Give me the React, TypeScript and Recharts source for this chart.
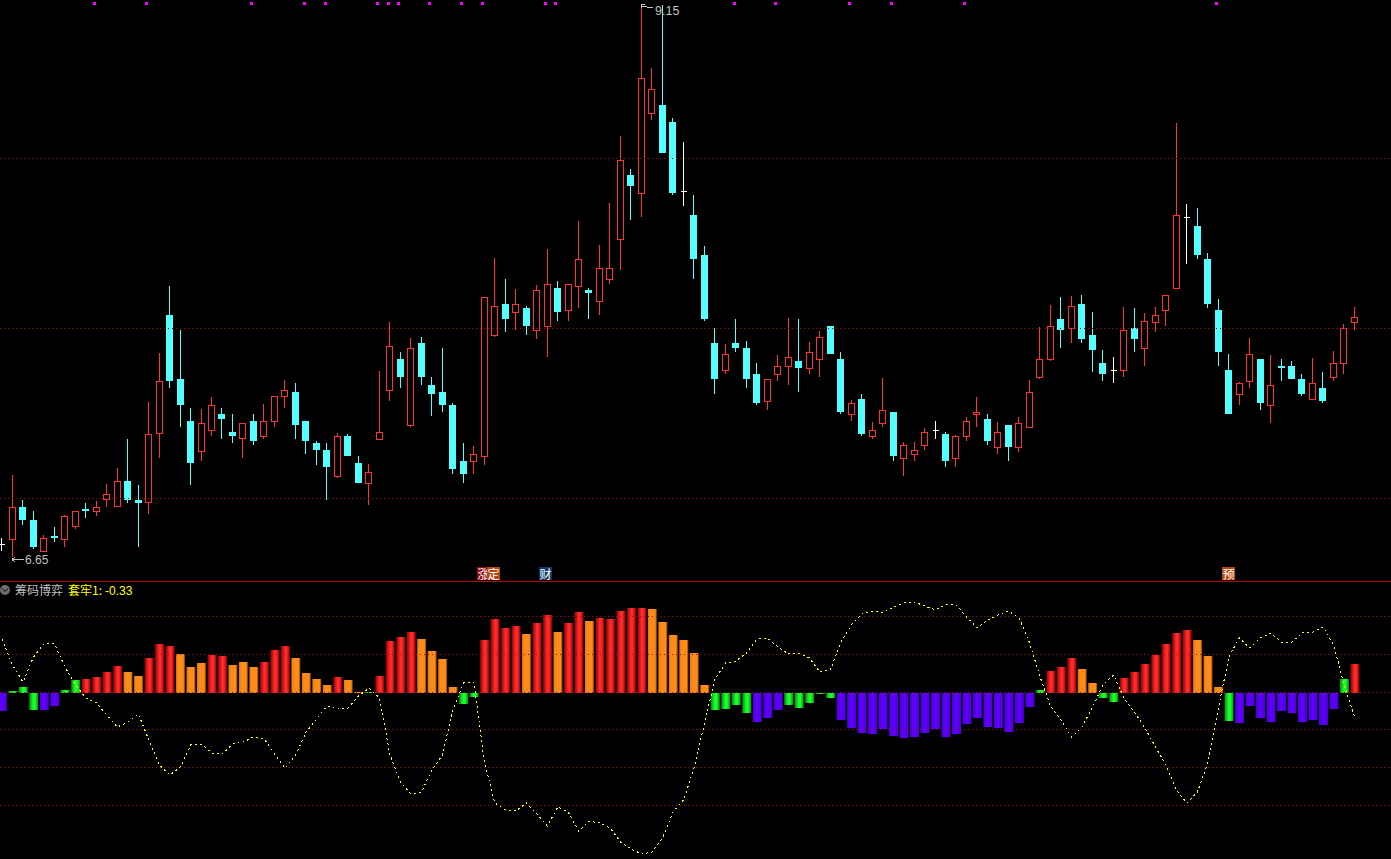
import { ComposedChart, Bar, Line, Cell, XAxis, YAxis, ReferenceLine } from 'recharts';

const highs = [
  6.749, 7.033, 6.92, 6.871, 6.763, 6.799, 6.853, 6.871, 6.907, 6.916,
  6.992, 7.064, 7.195, 6.988, 7.361, 7.582, 7.883, 7.685, 7.334, 7.33,
  7.384, 7.334, 7.307, 7.267, 7.307, 7.352, 7.388, 7.46, 7.447, 7.276,
  7.186, 7.177, 7.222, 7.217, 7.118, 7.082, 7.5, 7.721, 7.586, 7.649,
  7.653, 7.474, 7.604, 7.357, 7.177, 7.163, 7.834, 8.009, 7.915, 7.87,
  7.793, 7.888, 8.05, 7.906, 7.892, 8.176, 7.874, 8.068, 8.257, 8.558,
  8.41, 9.134, 8.864, 9.148, 8.639, 8.531, 8.293, 8.063, 7.694, 7.622,
  7.735, 7.636, 7.537, 7.465, 7.573, 7.739, 7.735, 7.631, 7.681, 7.703,
  7.586, 7.37, 7.397, 7.271, 7.469, 7.316, 7.181, 7.181, 7.244, 7.276,
  7.226, 7.213, 7.294, 7.384, 7.307, 7.271, 7.258, 7.294, 7.46, 7.699,
  7.798, 7.834, 7.838, 7.843, 7.766, 7.595, 7.564, 7.789, 7.784, 7.762,
  7.789, 7.843, 8.617, 8.252, 8.234, 8.032, 7.825, 7.577, 7.451, 7.649,
  7.555, 7.573, 7.555, 7.546, 7.487, 7.559, 7.496, 7.591, 7.712, 7.789,
];

const lows = [
  6.69, 6.664, 6.808, 6.7, 6.686, 6.731, 6.709, 6.79, 6.839, 6.848,
  6.889, 6.889, 6.907, 6.709, 6.857, 7.109, 7.424, 7.249, 6.988, 7.096,
  7.208, 7.195, 7.177, 7.109, 7.168, 7.195, 7.249, 7.334, 7.195, 7.127,
  7.078, 6.92, 7.019, 7.118, 6.997, 6.898, 7.19, 7.365, 7.424, 7.249,
  7.438, 7.298, 7.316, 7.037, 6.997, 7.037, 7.078, 7.654, 7.676, 7.685,
  7.663, 7.645, 7.564, 7.726, 7.726, 7.784, 7.735, 7.753, 7.892, 7.955,
  8.18, 8.194, 8.63, 8.482, 8.293, 8.243, 7.915, 7.726, 7.397, 7.487,
  7.586, 7.424, 7.348, 7.325, 7.456, 7.438, 7.406, 7.487, 7.474, 7.577,
  7.307, 7.276, 7.208, 7.195, 7.249, 7.096, 7.028, 7.096, 7.145, 7.195,
  7.069, 7.069, 7.186, 7.249, 7.168, 7.127, 7.096, 7.136, 7.244, 7.465,
  7.546, 7.604, 7.626, 7.626, 7.496, 7.456, 7.447, 7.474, 7.586, 7.523,
  7.676, 7.703, 7.87, 7.982, 8.005, 7.784, 7.523, 7.307, 7.348, 7.424,
  7.325, 7.267, 7.456, 7.465, 7.388, 7.37, 7.357, 7.456, 7.487, 7.685,
];

const opens = [
  6.722, 6.74, 6.889, 6.83, 6.686, 6.758, 6.74, 6.799, 6.88, 6.866,
  6.92, 6.889, 7.006, 6.92, 6.907, 7.217, 7.753, 7.465, 7.276, 7.136,
  7.231, 7.307, 7.226, 7.195, 7.276, 7.204, 7.271, 7.384, 7.406, 7.276,
  7.177, 7.145, 7.024, 7.208, 7.087, 6.992, 7.19, 7.41, 7.555, 7.253,
  7.626, 7.438, 7.406, 7.348, 7.096, 7.091, 7.114, 7.658, 7.802, 7.762,
  7.784, 7.681, 7.699, 7.874, 7.771, 7.879, 7.865, 7.811, 7.91, 8.09,
  8.383, 8.297, 8.657, 8.698, 8.621, 8.31, 8.203, 8.023, 7.626, 7.5,
  7.626, 7.604, 7.487, 7.361, 7.483, 7.519, 7.546, 7.51, 7.55, 7.703,
  7.555, 7.303, 7.375, 7.204, 7.262, 7.316, 7.105, 7.123, 7.163, 7.235,
  7.217, 7.105, 7.204, 7.303, 7.285, 7.154, 7.258, 7.154, 7.244, 7.469,
  7.55, 7.735, 7.69, 7.802, 7.663, 7.537, 7.505, 7.5, 7.694, 7.6,
  7.717, 7.771, 7.87, 8.194, 8.153, 8.005, 7.775, 7.505, 7.393, 7.451,
  7.555, 7.343, 7.523, 7.523, 7.465, 7.37, 7.424, 7.469, 7.532, 7.717,
];

const closes = [
  6.722, 6.889, 6.83, 6.709, 6.749, 6.749, 6.848, 6.871, 6.871, 6.889,
  6.947, 7.006, 6.92, 6.907, 7.217, 7.456, 7.456, 7.348, 7.087, 7.267,
  7.348, 7.285, 7.208, 7.267, 7.186, 7.276, 7.388, 7.415, 7.258, 7.186,
  7.145, 7.069, 7.208, 7.118, 6.997, 7.046, 7.226, 7.613, 7.474, 7.604,
  7.474, 7.397, 7.348, 7.06, 7.037, 7.127, 7.834, 7.793, 7.735, 7.802,
  7.703, 7.865, 7.892, 7.766, 7.892, 8.005, 7.852, 7.964, 7.964, 8.45,
  8.333, 8.819, 8.77, 8.482, 8.302, 8.31, 8.005, 7.735, 7.465, 7.577,
  7.604, 7.465, 7.357, 7.465, 7.523, 7.564, 7.514, 7.586, 7.654, 7.577,
  7.316, 7.357, 7.217, 7.235, 7.325, 7.118, 7.168, 7.145, 7.226, 7.235,
  7.096, 7.208, 7.276, 7.316, 7.186, 7.226, 7.159, 7.267, 7.406, 7.555,
  7.703, 7.685, 7.793, 7.645, 7.595, 7.487, 7.505, 7.685, 7.645, 7.726,
  7.753, 7.843, 8.203, 8.194, 8.023, 7.802, 7.586, 7.307, 7.447, 7.577,
  7.357, 7.438, 7.514, 7.465, 7.397, 7.447, 7.366, 7.537, 7.694, 7.744,
];

const signalDays = [9, 14, 24, 29, 31, 36, 37, 38, 41, 44, 46, 52, 53, 70, 74, 81, 85, 92, 116];
const signalLevel = 9.157;
const priceLevels = [8.457, 7.692, 6.927];

const chipValues = [
  -0.238, 0.026, 0.079, -0.224, -0.224, -0.172, 0.04, 0.172, 0.185, 0.211,
  0.277, 0.356, 0.277, 0.224, 0.462, 0.647, 0.62, 0.515, 0.343, 0.396,
  0.502, 0.488, 0.37, 0.409, 0.343, 0.409, 0.568, 0.62, 0.462, 0.264,
  0.185, 0.106, 0.211, 0.172, 0.013, 0.013, 0.224, 0.686, 0.739, 0.805,
  0.713, 0.554, 0.449, 0.079, -0.145, -0.053, 0.7, 0.977, 0.858, 0.884,
  0.779, 0.924, 1.03, 0.805, 0.924, 1.069, 0.95, 0.99, 0.977, 1.082,
  1.122, 1.122, 1.109, 0.937, 0.766, 0.7, 0.528, 0.106, -0.224, -0.211,
  -0.158, -0.264, -0.383, -0.33, -0.224, -0.158, -0.198, -0.132, -0.013, -0.066,
  -0.356, -0.462, -0.528, -0.541, -0.475, -0.568, -0.594, -0.581, -0.528, -0.475,
  -0.581, -0.541, -0.409, -0.33, -0.449, -0.462, -0.515, -0.396, -0.185, 0.04,
  0.29, 0.343, 0.462, 0.317, 0.132, -0.066, -0.119, 0.198, 0.277, 0.383,
  0.502, 0.647, 0.792, 0.832, 0.7, 0.488, 0.079, -0.37, -0.396, -0.172,
  -0.33, -0.383, -0.238, -0.264, -0.383, -0.356, -0.422, -0.211, 0.185, 0.383,
];

// r red, o orange, g green, p purple
const chipKinds = [
  'pgggppggrr', 'rroorrrooo', 'rrooorrroo', 'ooroogrrrr', 'ooooggrrrr',
  'orrorrorrr', 'rroooooogg', 'ggpppggggg', 'pppppppppp', 'pppppppppg',
  'rrrooggrrr', 'rrrrooogpp', 'ppppppppgr',
].join('');

const trappedLine = [
  0.713, 0.37, 0.145, 0.475, 0.647, 0.647, 0.343, 0.106, -0.066, -0.132,
  -0.29, -0.449, -0.383, -0.277, -0.62, -0.95, -1.082, -0.977, -0.686, -0.673,
  -0.792, -0.805, -0.673, -0.647, -0.581, -0.607, -0.805, -0.99, -0.818, -0.515,
  -0.343, -0.172, -0.211, -0.198, -0.04, 0.066, -0.066, -0.818, -1.175, -1.333,
  -1.307, -1.016, -0.818, -0.224, 0.132, 0.145, -0.911, -1.452, -1.544, -1.558,
  -1.452, -1.597, -1.756, -1.505, -1.571, -1.822, -1.69, -1.716, -1.782, -1.967,
  -2.059, -2.125, -2.099, -1.914, -1.571, -1.412, -0.99, -0.396, 0.185, 0.396,
  0.422, 0.528, 0.713, 0.726, 0.607, 0.515, 0.528, 0.462, 0.277, 0.304,
  0.673, 0.898, 1.043, 1.082, 1.056, 1.135, 1.188, 1.201, 1.148, 1.096,
  1.162, 1.162, 1.003, 0.858, 0.964, 1.03, 1.082, 0.99, 0.66, 0.211,
  -0.172, -0.356, -0.581, -0.449, -0.185, 0.106, 0.238, -0.066, -0.251, -0.462,
  -0.713, -0.95, -1.28, -1.452, -1.307, -0.924, -0.198, 0.475, 0.726, 0.594,
  0.726, 0.792, 0.673, 0.673, 0.792, 0.805, 0.871, 0.634, 0.106, -0.317,
];

const chipLevels = [1.007, 0.508, 0, -0.482, -0.983, -1.485];

const candleData = highs.map((high, i) => ({
  i,
  high,
  low: lows[i],
  open: opens[i],
  close: closes[i],
  signal: signalDays.includes(i) ? signalLevel : null,
}));

const chipData = chipValues.map((value, i) => ({ i, value, kind: chipKinds[i], trapped: trappedLine[i] }));

const UP = '#ff3232';
const DOWN = '#54ffff';
const DOJI = '#ffffff';
const LEVEL = '#b00000';
const xDomain: [number, number] = [-0.195, 132.465];

function Candle(props: any) {
  const { x, y, width, height, payload } = props;
  const { high, low, open, close } = payload;
  const span = high - low || 1;
  const yAt = (v: number) => Math.round(y + ((high - v) / span) * height);
  const cx = Math.floor(x + width / 2) + 0.5;
  const top = yAt(Math.max(open, close));
  const bottom = yAt(Math.min(open, close));
  const hiY = yAt(high);
  const loY = yAt(low);
  const color = close > open ? UP : close < open ? DOWN : DOJI;
  return (
    <g shapeRendering="crispEdges">
      <line x1={cx} x2={cx} y1={hiY} y2={top} stroke={color} />
      <line x1={cx} x2={cx} y1={bottom} y2={loY} stroke={color} />
      {close > open && (
        <rect x={cx - 3} y={top + 0.5} width={6} height={Math.max(bottom - top - 1, 1)} fill="#000" stroke={color} />
      )}
      {close < open && <rect x={cx - 3.5} y={top} width={7} height={Math.max(bottom - top, 1)} fill={color} />}
      {close === open && <line x1={cx - 3} x2={cx + 3} y1={top + 0.5} y2={top + 0.5} stroke={color} />}
    </g>
  );
}

function SignalDot(props: any) {
  const { cx, cy, index } = props;
  if (cy == null || Number.isNaN(cy)) return <g key={index} />;
  return (
    <rect key={index} x={Math.floor(cx) - 3} y={Math.round(cy) - 1} width={3} height={3} fill="#ff00ff" shapeRendering="crispEdges" />
  );
}

function Gradient({ id, stops }: { id: string; stops: [string, string][] }) {
  return (
    <linearGradient id={id} x1="0" y1="0" x2="1" y2="0">
      {stops.map(([o, c]) => (
        <stop key={o} offset={o} stopColor={c} />
      ))}
    </linearGradient>
  );
}

function Badge({ left, top, bg, text }: { left: number; top: number; bg: string; text: string }) {
  return (
    <div
      style={{
        position: 'absolute',
        left,
        top,
        width: 13,
        height: 13,
        background: bg,
        color: '#fff',
        fontSize: 12,
        lineHeight: '13px',
        textAlign: 'center',
        fontFamily: '"Noto Sans CJK SC"',
      }}
    >
      {text}
    </div>
  );
}

export default function App() {
  return (
    <div style={{ position: 'absolute', left: 0, top: 0, width: 1391, height: 859, background: '#000', overflow: 'hidden' }}>
      <svg width={1391} height={30} style={{ position: 'absolute', left: 0, top: 0 }}>
        <text x={655} y={15} fontFamily='"Liberation Sans"' fontSize={12.5} fill="#c0c0c0">9.15</text>
      </svg>

      <div style={{ position: 'absolute', left: 0, top: 0 }}>
        <ComposedChart width={1391} height={581} data={candleData} margin={{ top: 0, right: 0, bottom: 0, left: 0 }}>
          <XAxis dataKey="i" type="number" domain={xDomain} allowDataOverflow hide />
          <YAxis type="number" domain={[6.5555, 9.17]} allowDataOverflow hide width={0} />
          {priceLevels.map((v) => (
            <ReferenceLine key={v} y={v} stroke={LEVEL} strokeDasharray="1 3" shapeRendering="crispEdges" />
          ))}
          <Bar dataKey={(d: any) => [d.low, d.high]} barSize={8} shape={<Candle />} isAnimationActive={false} />
          <Line dataKey="signal" stroke="none" dot={<SignalDot />} activeDot={false} connectNulls={false} isAnimationActive={false} />
        </ComposedChart>
      </div>

      <div style={{ position: 'absolute', left: 0, top: 581, width: 1391, height: 1, background: '#c00000' }} />

      <div style={{ position: 'absolute', left: 0, top: 582 }}>
        <ComposedChart width={1391} height={277} data={chipData} margin={{ top: 0, right: 0, bottom: 0, left: 0 }}>
          <defs>
            <Gradient id="barRed" stops={[['0', '#8c0000'], ['0.45', '#ff2a2a'], ['0.65', '#ff2a2a'], ['1', '#8c0000']]} />
            <Gradient id="barOrange" stops={[['0', '#e07a10'], ['0.3', '#ff8c1a'], ['0.8', '#ff8c1a'], ['1', '#6a3800']]} />
            <Gradient id="barGreen" stops={[['0', '#008c10'], ['0.45', '#1aff2a'], ['0.65', '#1aff2a'], ['1', '#008c10']]} />
            <Gradient id="barPurple" stops={[['0', '#4800d8'], ['0.5', '#6200ff'], ['1', '#4800d8']]} />
          </defs>
          <XAxis dataKey="i" type="number" domain={xDomain} allowDataOverflow hide />
          <YAxis type="number" domain={[-2.191, 1.465]} allowDataOverflow hide width={0} />
          {chipLevels.map((v) => (
            <ReferenceLine key={v} y={v} stroke={LEVEL} strokeDasharray="1 3" shapeRendering="crispEdges" />
          ))}
          <Line
            dataKey="trapped"
            stroke="#ffff00"
            strokeWidth={1}
            strokeDasharray="2 3"
            shapeRendering="crispEdges"
            dot={false}
            activeDot={false}
            isAnimationActive={false}
          />
          <Bar dataKey="value" barSize={9} isAnimationActive={false}>
            {chipData.map((d) => (
              <Cell
                key={d.i}
                fill={
                  d.kind === 'r'
                    ? 'url(#barRed)'
                    : d.kind === 'o'
                      ? 'url(#barOrange)'
                      : d.kind === 'g'
                        ? 'url(#barGreen)'
                        : 'url(#barPurple)'
                }
              />
            ))}
          </Bar>
        </ComposedChart>
      </div>

      <svg width={1391} height={859} style={{ position: 'absolute', left: 0, top: 0, pointerEvents: 'none' }}>
        <g stroke="#c0c0c0" fill="none" shapeRendering="crispEdges">
          <path d="M12 559.5H24M12 559.5L15 557M12 559.5L15 562" />
          <path d="M641.5 4V8M641.5 4.5H645M642 6.5H647M647 7.5H653" />
        </g>
        <text x={25} y={564} fontFamily='"Liberation Sans"' fontSize={12} fill="#c0c0c0">6.65</text>
        <circle cx={5} cy={590} r={5} fill="#6e6e6e" />
        <path d="M2 588.5L5 591.5L8 588.5" stroke="#000" fill="none" />
        <text x={15} y={595} fontFamily='"Noto Sans CJK SC"' fontSize={12} fill="#c0c0c0">筹码博弈</text>
        <text x={68} y={595} fontFamily='"Noto Sans CJK SC"' fontSize={12} fill="#ffff00">套牢1:</text>
        <text x={105} y={595} fontFamily='"Liberation Sans"' fontSize={12} fill="#ffff00">-0.33</text>
      </svg>

      <Badge left={477} top={567} bg="#8c0c0c" text="涨" />
      <Badge left={487} top={567} bg="#b8460e" text="定" />
      <Badge left={539} top={567} bg="#0f3a66" text="财" />
      <Badge left={1222} top={567} bg="#b8460e" text="预" />
    </div>
  );
}
